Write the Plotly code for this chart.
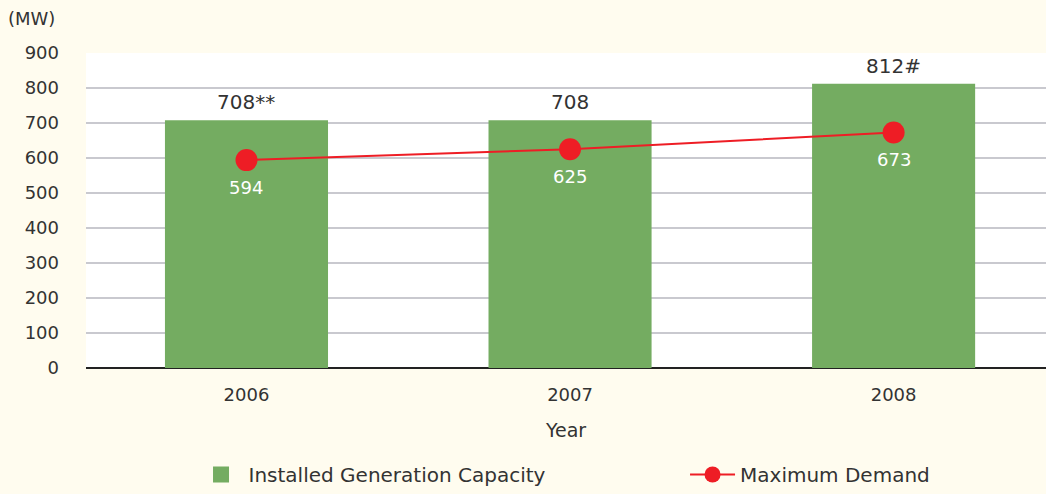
import plotly.graph_objects as go

years = ["2006", "2007", "2008"]
capacity = [708, 708, 812]
capacity_labels = ["708**", "708", "812#"]
demand = [594, 625, 673]
demand_labels = ["594", "625", "673"]

GREEN = "#74ac61"
RED = "#ee1d25"
CREAM = "#fffcef"
TXT = "#333333"
FONT = "DejaVu Sans"

fig = go.Figure()
fig.add_trace(go.Bar(
    x=years, y=capacity, name="Installed Generation Capacity",
    marker=dict(color=GREEN, line=dict(width=0)), showlegend=False,
))
# legend entry with a larger square swatch
fig.add_trace(go.Scatter(
    x=[None], y=[None], name="Installed Generation Capacity", mode="markers",
    marker=dict(color=GREEN, size=25, symbol="square"), legend="legend",
))
fig.add_trace(go.Scatter(
    x=years, y=demand, name="Maximum Demand", mode="lines+markers",
    line=dict(color=RED, width=2),
    marker=dict(color=RED, size=22),
    legend="legend2",
))
# category positions on the x axis are 0, 1, 2
for i, (y, t) in enumerate(zip(capacity, capacity_labels)):
    fig.add_annotation(x=i, y=y, text=t, showarrow=False, yanchor="bottom",
                       yshift=4, font=dict(size=20, color=TXT, family=FONT))
for i, (y, t) in enumerate(zip(demand, demand_labels)):
    fig.add_annotation(x=i, y=y, text=t, showarrow=False, yanchor="middle",
                       yshift=-27, font=dict(size=18, color="white", family=FONT))

fig.add_annotation(xref="paper", yref="paper", x=-0.083, y=1.11, xanchor="left",
                   yanchor="middle", text="(MW)", showarrow=False,
                   font=dict(size=18, color=TXT, family=FONT))

leg = dict(orientation="h", xanchor="left", y=-0.34, yanchor="middle", itemwidth=45,
           bgcolor="rgba(0,0,0,0)", font=dict(size=20, color=TXT, family=FONT))
fig.update_layout(
    width=1046, height=494,
    margin=dict(l=86, r=0, t=53, b=124),
    paper_bgcolor=CREAM, plot_bgcolor="white",
    font=dict(family=FONT, size=18, color=TXT),
    bargap=0.496,
    showlegend=True,
    legend=dict(leg, x=0.112),
    legend2=dict(leg, x=0.624),
    xaxis=dict(type="category", range=[-0.496, 2.471], showgrid=False, ticks="",
               ticklabelstandoff=14,
               title=dict(text="Year", standoff=19, font=dict(size=19, color=TXT))),
    yaxis=dict(range=[0, 900], dtick=100, showgrid=True, gridcolor="#c9c9cf", gridwidth=2,
               zeroline=True, zerolinecolor="#222222", zerolinewidth=2,
               ticks="", ticklabelstandoff=26, showline=False),
)
fig.write_html("out.html", config={"displayModeBar": False},
               post_script="document.body.style.margin='0';document.body.style.overflow='hidden';")
